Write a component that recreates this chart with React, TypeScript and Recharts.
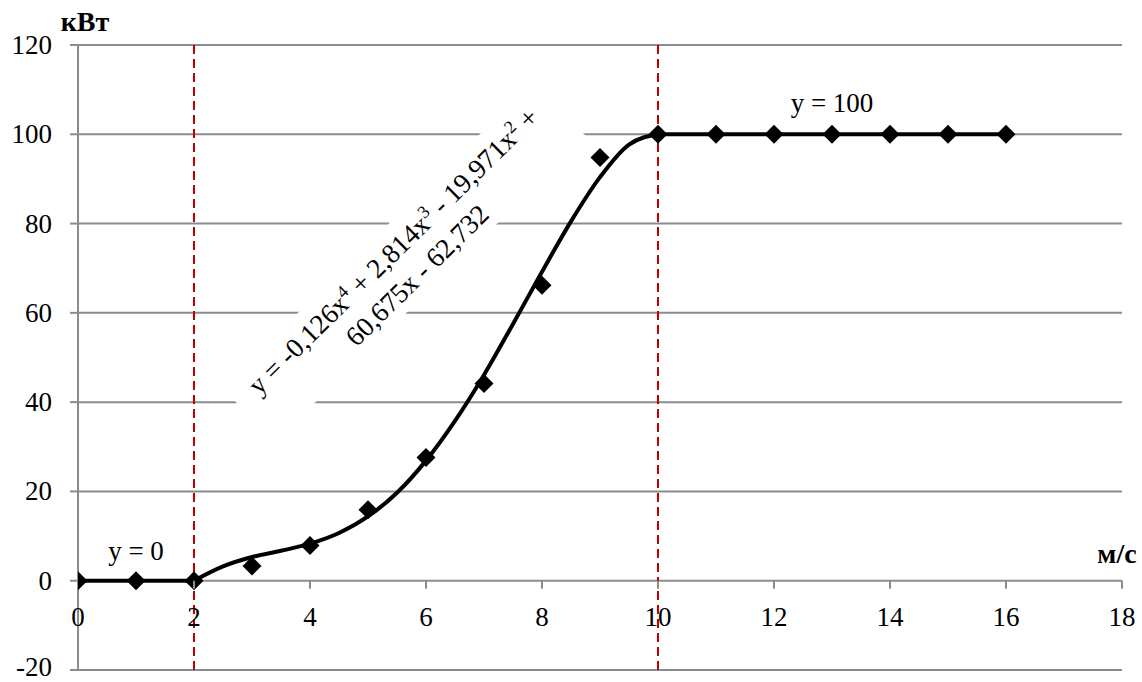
import React from "react";
import { ComposedChart, Line, XAxis, YAxis, CartesianGrid, ReferenceLine, ReferenceDot } from "recharts";

// wind speed (м/с) vs power (кВт)
const startSpeeds = [0, 1, 2];
const startPower = [0, 0, 0];
const measuredSpeeds = [3, 4, 5, 6, 7, 8, 9];
const measuredPower = [3.3, 7.9, 15.9, 27.6, 44.2, 66.2, 94.8];
const ratedSpeeds = [10, 11, 12, 13, 14, 15, 16];
const ratedPower = [100, 100, 100, 100, 100, 100, 100];
const trendSpeeds = [2, 2.5, 3, 3.5, 4, 4.5, 5, 5.5, 6, 6.5, 7, 7.5, 8, 8.5, 9, 9.5, 10];
const trendPower = [0, 3.2, 5.3, 6.7, 8.3, 10.7, 14.4, 19.7, 26.9, 35.8, 46.1, 57.5, 69.2, 80.5, 90.4, 97.7, 100];
const xTicks = [0, 2, 4, 6, 8, 10, 12, 14, 16, 18];
const yTicks = [-20, 0, 20, 40, 60, 80, 100, 120];

const zip = (xs: number[], ys: number[]) => xs.map((x, i) => ({ x, y: ys[i] }));
const startData = zip(startSpeeds, startPower);
const measuredData = zip(measuredSpeeds, measuredPower);
const ratedData = zip(ratedSpeeds, ratedPower);
const trendData = zip(trendSpeeds, trendPower);

const FONT = "'Liberation Serif', 'Times New Roman', serif";
const GRID = "#8c8c8c";
const W = 1142;
const H = 682;
const M = { top: 45, right: 20, bottom: 11, left: 8 };
const X_AXIS_H = 1;
const Y_MIN = -20;
const Y_MAX = 120;
const ZERO_Y = M.top + ((H - M.top - M.bottom - X_AXIS_H) * Y_MAX) / (Y_MAX - Y_MIN);

const Diamond = (props: any) => {
  const { cx, cy, index } = props;
  if (cx == null || cy == null) return <g key={index} />;
  const s = 9.5;
  return <path key={index} d={`M${cx},${cy - s}L${cx + s},${cy}L${cx},${cy + s}L${cx - s},${cy}Z`} fill="#000" />;
};

const XTick = (props: any) => {
  const { x, payload } = props;
  return (
    <g>
      {payload.value !== 0 && <line x1={x} x2={x} y1={ZERO_Y} y2={ZERO_Y + 8} stroke={GRID} strokeWidth={2} />}
      <text x={x} y={ZERO_Y + 45} textAnchor="middle" fontFamily={FONT} fontSize={27} fill="#000">
        {payload.value}
      </text>
    </g>
  );
};

const YTick = (props: any) => {
  const { x, y, payload } = props;
  // keep the lowest label inside the picture
  const baseline = Math.min(y + 9, H - 6);
  return (
    <text x={x} y={baseline} textAnchor="end" fontFamily={FONT} fontSize={27} fill="#000">
      {payload.value}
    </text>
  );
};

const TextAt = (value: string, dx: number, dy: number, bold = false) => (p: any) => (
  <text x={p.cx + dx} y={p.cy + dy} textAnchor="middle" fontFamily={FONT} fontSize={bold ? 28 : 27} fontWeight={bold ? "bold" : "normal"} fill="#000">
    {value}
  </text>
);

const Equation = (p: any) => (
  <g transform={`translate(${p.cx},${p.cy}) rotate(-44.5)`}>
    <rect x={-218} y={-38} width={436} height={76} fill="#fff" />
    <text x={0} y={-6} textAnchor="middle" fontFamily={FONT} fontSize={27.5} fill="#000">
      y = -0,126x<tspan dy={-10} fontSize={18}>4</tspan>
      <tspan dy={10}> + 2,814x</tspan>
      <tspan dy={-10} fontSize={18}>3</tspan>
      <tspan dy={10}> - 19,971x</tspan>
      <tspan dy={-10} fontSize={18}>2</tspan>
      <tspan dy={10}> +</tspan>
    </text>
    <text x={0} y={28} textAnchor="middle" fontFamily={FONT} fontSize={27.5} fill="#000">
      60,675x - 62,732
    </text>
  </g>
);

export default function App() {
  return (
    <div style={{ position: "absolute", left: 0, top: 0, background: "#fff" }}>
      <ComposedChart width={W} height={H} margin={M}>
        <CartesianGrid vertical={false} stroke={GRID} strokeWidth={2} />
        <XAxis
          type="number"
          dataKey="x"
          domain={[0, 18]}
          ticks={xTicks}
          interval={0}
          height={X_AXIS_H}
          axisLine={false}
          tickLine={false}
          tick={<XTick />}
          allowDataOverflow
        />
        <YAxis
          type="number"
          domain={[Y_MIN, Y_MAX]}
          ticks={yTicks}
          interval={0}
          width={70}
          axisLine={{ stroke: GRID, strokeWidth: 2 }}
          tickLine={{ stroke: GRID, strokeWidth: 2 }}
          tickSize={8}
          tickMargin={18}
          tick={<YTick />}
        />
        <ReferenceDot x={5.62} y={71.4} r={1} shape={Equation} />
        <Line data={trendData} dataKey="y" type="monotone" stroke="#000" strokeWidth={4} dot={false} isAnimationActive={false} />
        <Line data={startData} dataKey="y" type="linear" stroke="#000" strokeWidth={4} dot={Diamond} isAnimationActive={false} />
        <Line data={ratedData} dataKey="y" type="linear" stroke="#000" strokeWidth={4} dot={Diamond} isAnimationActive={false} />
        <Line data={measuredData} dataKey="y" stroke="none" dot={Diamond} isAnimationActive={false} />
        <ReferenceLine x={2} stroke="#c00000" strokeWidth={2} strokeDasharray="9 5" />
        <ReferenceLine x={10} stroke="#c00000" strokeWidth={2} strokeDasharray="9 5" />
        <ReferenceDot x={1} y={0} r={1} shape={TextAt("y = 0", 0, -21)} />
        <ReferenceDot x={13} y={100} r={1} shape={TextAt("y = 100", 0, -22)} />
        <ReferenceDot x={0} y={120} r={1} shape={TextAt("кВт", 7, -14, true)} />
        <ReferenceDot x={18} y={0} r={1} shape={TextAt("м/с", -5, -18, true)} />
      </ComposedChart>
    </div>
  );
}
